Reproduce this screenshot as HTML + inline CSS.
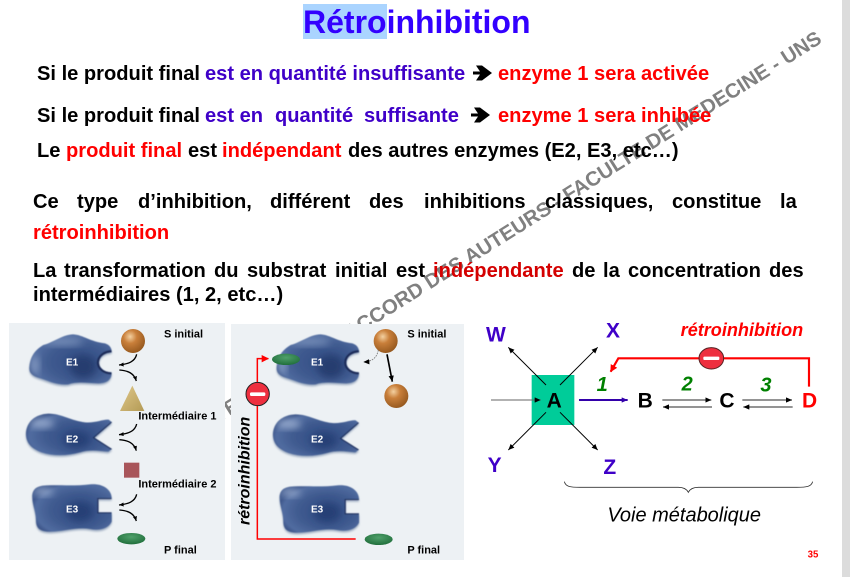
<!DOCTYPE html>
<html><head><meta charset="utf-8">
<style>html,body{margin:0;padding:0;background:#fff;width:850px;height:577px;overflow:hidden}svg{display:block}text{font-family:"Liberation Sans",sans-serif;white-space:pre}</style>
</head><body>
<svg width="850" height="577" viewBox="0 0 850 577" xmlns="http://www.w3.org/2000/svg">
<defs>
<radialGradient id="bl" cx=".6" cy=".55" r=".62"><stop offset="0" stop-color="#304c84"/><stop offset=".6" stop-color="#405b90"/><stop offset=".9" stop-color="#516ca0"/><stop offset="1" stop-color="#3f588c"/></radialGradient>
<radialGradient id="or" cx=".38" cy=".32" r=".7"><stop offset="0" stop-color="#f3d0a0"/><stop offset=".4" stop-color="#c97f3a"/><stop offset="1" stop-color="#96591f"/></radialGradient>
<radialGradient id="gr" cx=".5" cy=".35" r=".7"><stop offset="0" stop-color="#4fa06a"/><stop offset="1" stop-color="#1d6b38"/></radialGradient>
<linearGradient id="tr" x1="0" y1="0" x2="1" y2="1"><stop offset="0" stop-color="#e0c88a"/><stop offset="1" stop-color="#b39a55"/></linearGradient>
<filter id="b0" x="-10%" y="-10%" width="120%" height="120%"><feGaussianBlur stdDeviation="1.4"/></filter>
<filter id="b1" x="-20%" y="-20%" width="140%" height="140%"><feGaussianBlur stdDeviation="3"/></filter>
<filter id="b2" x="-50%" y="-50%" width="200%" height="200%"><feGaussianBlur stdDeviation="12"/></filter>
<marker id="ak" markerUnits="userSpaceOnUse" markerWidth="20" markerHeight="16" refX="18" refY="8" orient="auto"><path d="M0 0L18 8L0 16z" fill="#000"/></marker>
<marker id="as" markerUnits="userSpaceOnUse" markerWidth="16" markerHeight="12" refX="14" refY="6" orient="auto"><path d="M0 0L14 6L0 12z" fill="#000"/></marker>
<marker id="ab" markerUnits="userSpaceOnUse" markerWidth="20" markerHeight="16" refX="18" refY="8" orient="auto"><path d="M0 0L18 8L0 16z" fill="#3300aa"/></marker>
<marker id="ar" markerUnits="userSpaceOnUse" markerWidth="24" markerHeight="22" refX="20" refY="11" orient="auto"><path d="M0 0L22 11L0 22z" fill="#f00"/></marker>
<path id="p1" d="M88 160C90 125 105 105 130 90C160 82 190 58 220 58C250 60 270 80 315 85C330 90 335 100 335 112C315 112 297 125 297 143C297 160 315 172 335 172C335 190 325 205 295 205C265 205 235 198 205 208C170 212 140 195 115 188C100 183 88 175 88 160z"/>
<path id="p2" d="M78 355C80 320 105 298 145 296C185 296 215 318 255 322C285 325 310 312 326 314L336 322L283 368L336 402L325 410C300 408 270 402 240 412C205 422 160 424 125 412C95 400 78 385 78 355z"/>
<path id="p3" d="M97 545C97 522 110 512 140 511C190 510 230 513 270 508C305 505 335 520 335 552L295 552L295 592L335 592L335 620C325 640 300 648 270 642C230 635 190 650 150 650C120 650 108 640 108 615C108 590 97 570 97 545z"/>
<clipPath id="c1"><use href="#p1"/></clipPath>
<clipPath id="c2"><use href="#p2"/></clipPath>
<clipPath id="c3"><use href="#p3"/></clipPath>
<g id="e1"><use href="#p1" fill="#9aa9bf" transform="translate(0 5)" filter="url(#b1)"/><g filter="url(#b0)"><use href="#p1" fill="url(#bl)"/><g clip-path="url(#c1)"><ellipse cx="190" cy="80" rx="60" ry="10" fill="#7f96bf" filter="url(#b2)"/><ellipse cx="105" cy="150" rx="10" ry="30" fill="#8ea3c8" filter="url(#b2)"/><ellipse cx="250" cy="155" rx="40" ry="35" fill="#263d70" filter="url(#b2)"/><path d="M335 112C315 112 297 125 297 143C297 160 315 172 335 172" fill="none" stroke="#1a2b58" stroke-width="13"/></g></g></g>
<g id="e2"><use href="#p2" fill="#9aa9bf" transform="translate(0 5)" filter="url(#b1)"/><g filter="url(#b0)"><use href="#p2" fill="url(#bl)"/><g clip-path="url(#c2)"><ellipse cx="125" cy="325" rx="38" ry="12" fill="#9db0d2" filter="url(#b2)"/><ellipse cx="230" cy="375" rx="40" ry="25" fill="#283f76" filter="url(#b2)"/><path d="M336 322L283 368L336 402" fill="none" stroke="#1a2b58" stroke-width="6"/></g></g></g>
<g id="e3"><use href="#p3" fill="#9aa9bf" transform="translate(0 5)" filter="url(#b1)"/><g filter="url(#b0)"><use href="#p3" fill="url(#bl)"/><g clip-path="url(#c3)"><ellipse cx="130" cy="530" rx="30" ry="10" fill="#9db0d2" filter="url(#b2)"/><ellipse cx="240" cy="590" rx="40" ry="30" fill="#283f76" filter="url(#b2)"/><path d="M335 552L295 552L295 592L335 592" fill="none" stroke="#1a2b58" stroke-width="6"/></g></g></g>
<g id="cv" fill="none" stroke="#000" stroke-width="4"><path d="M410 118C405 140 385 147 357 150" marker-end="url(#as)"/><path d="M358 165C385 167 402 175 409 198" marker-end="url(#as)"/></g>
</defs>

<rect width="850" height="577" fill="#fff"/>
<rect x="842" y="0" width="8" height="577" fill="#dcdcdc"/>

<text transform="translate(823 42) rotate(-32.2)" text-anchor="end" font-size="20.4" font-weight="700" fill="#808080">REPRODUCTION INTERDITE SANS ACCORD DES AUTEURS - FACULTE DE MEDECINE - UNS</text>

<rect x="303" y="4" width="84" height="35" fill="#aad4ff"/>
<text x="303" y="33" font-size="32" font-weight="700" fill="#3300ff">Rétroinhibition</text>

<g font-size="20.1" font-weight="700">
<text x="37" y="80" fill="#000">Si le produit final</text>
<text x="205" y="80" fill="#3f00c8">est en quantité insuffisante</text>
<text x="498" y="80" fill="#f00">enzyme 1 sera activée</text>
<path d="M473 71.5H480L476 65.5H482L492 73L482 80.5H476L480 74.5H473z" fill="#000"/>
<text x="37" y="122" fill="#000">Si le produit final</text>
<text x="205" y="122" fill="#3f00c8">est en</text>
<text x="275" y="122" fill="#3f00c8">quantité</text>
<text x="364" y="122" fill="#3f00c8">suffisante</text>
<text x="498" y="122" fill="#f00">enzyme 1 sera inhibée</text>
<path d="M471 113.5H478L474 107.5H480L490 115L480 122.5H474L478 116.5H471z" fill="#000"/>
<text x="37" y="157" fill="#000">Le</text>
<text x="66" y="157" fill="#f00">produit final</text>
<text x="188" y="157" fill="#000">est</text>
<text x="222" y="157" fill="#f00">indépendant</text>
<text x="348" y="157" fill="#000">des autres enzymes (E2, E3, etc…)</text>

<text y="208" fill="#000"><tspan x="33">Ce</tspan><tspan x="77">type</tspan><tspan x="138">d’inhibition,</tspan><tspan x="270">différent</tspan><tspan x="369">des</tspan><tspan x="424">inhibitions</tspan><tspan x="545">classiques,</tspan><tspan x="672">constitue</tspan><tspan x="780">la</tspan></text>
<text x="33" y="239" fill="#f00">rétroinhibition</text>
<text y="277" fill="#000"><tspan x="33">La</tspan><tspan x="64">transformation</tspan><tspan x="214">du</tspan><tspan x="247">substrat</tspan><tspan x="335">initial</tspan><tspan x="396">est</tspan></text>
<text x="433" y="277" fill="#d40000">indépendante</text>
<text y="277" fill="#000"><tspan x="572">de</tspan><tspan x="603">la</tspan><tspan x="628">concentration</tspan><tspan x="769">des</tspan></text>
<text x="33" y="301" fill="#000">intermédiaires (1, 2, etc…)</text>
</g>

<rect x="9" y="323" width="216" height="237" fill="#edf1f4"/>
<rect x="231" y="324" width="233" height="236" fill="#edf1f4"/>

<!-- left panel -->
<g transform="translate(0 315) scale(.33333)">
<use href="#e1"/><use href="#e2"/><use href="#e3"/>
<circle cx="399" cy="78" r="36" fill="url(#or)"/>
<path d="M397 212L360 288H433z" fill="url(#tr)"/>
<rect x="372" y="443" width="46" height="45" fill="#a8555a"/>
<ellipse cx="394" cy="671" rx="42" ry="17" fill="url(#gr)"/>
<use href="#cv"/><use href="#cv" transform="translate(0 209)"/><use href="#cv" transform="translate(0 420)"/>
<g font-size="33" font-weight="700" fill="#000">
<text x="492" y="67">S initial</text>
<text x="415" y="313">Intermédiaire 1</text>
<text x="415" y="518">Intermédiaire 2</text>
<text x="492" y="715">P final</text>
</g>
<g font-size="30" font-weight="700" fill="#fff">
<text x="198" y="152">E1</text><text x="198" y="382">E2</text><text x="198" y="592">E3</text>
</g>
</g>

<!-- middle panel -->
<g transform="translate(225 315) scale(.33333)">
<g transform="translate(67 0)"><use href="#e1"/></g>
<g transform="translate(66 2)"><use href="#e2"/></g>
<g transform="translate(67 3)"><use href="#e3"/></g>
<path d="M392 672H97V131H130" fill="none" stroke="#f00" stroke-width="4.5" marker-end="url(#ar)"/>
<ellipse cx="183" cy="133" rx="42" ry="17" fill="url(#gr)"/>
<ellipse cx="461" cy="673" rx="42" ry="17" fill="url(#gr)"/>
<circle cx="482" cy="78" r="36" fill="url(#or)"/>
<circle cx="514" cy="243" r="36" fill="url(#or)"/>
<path d="M486 118L502 200" stroke="#000" stroke-width="5" marker-end="url(#ak)"/>
<path d="M460 105C455 130 440 140 415 141" fill="none" stroke="#777" stroke-width="2.5" stroke-dasharray="5 3" marker-end="url(#ak)"/>
<ellipse cx="98" cy="237" rx="35" ry="35" fill="#ee2f3f" stroke="#222" stroke-width="3"/>
<rect x="75" y="232" width="46" height="11" rx="4" fill="#fff"/>
<text transform="translate(73 630) rotate(-90)" font-size="48" font-weight="700" font-style="italic" fill="#000">rétroinhibition</text>
<g font-size="33" font-weight="700" fill="#000">
<text x="547" y="67">S initial</text>
<text x="547" y="715">P final</text>
</g>
<g font-size="30" font-weight="700" fill="#fff">
<text x="258" y="152">E1</text><text x="258" y="382">E2</text><text x="258" y="592">E3</text>
</g>
</g>

<!-- right diagram -->
<g transform="translate(470 310) scale(.33333)">
<rect x="185" y="195" width="128" height="150" fill="#00cc99"/>
<g stroke="#000" stroke-width="3" fill="none">
<path d="M228 225L115 112" marker-end="url(#ak)"/>
<path d="M270 225L383 112" marker-end="url(#ak)"/>
<path d="M228 307L115 420" marker-end="url(#ak)"/>
<path d="M270 307L383 420" marker-end="url(#ak)"/>
<path d="M63 270H212" stroke="#666" marker-end="url(#ak)"/>
<path d="M577 270H724" stroke="#555" stroke-width="3.5" marker-end="url(#ak)"/>
<path d="M726 291H579" stroke="#555" stroke-width="3.5" marker-end="url(#ak)"/>
<path d="M817 270H966" stroke="#555" stroke-width="3.5" marker-end="url(#ak)"/>
<path d="M968 291H820" stroke="#555" stroke-width="3.5" marker-end="url(#ak)"/>
</g>
<path d="M327 270H473" stroke="#3300aa" stroke-width="6" fill="none" marker-end="url(#ab)"/>
<path d="M1017 230V145H445L422 185" fill="none" stroke="#f00" stroke-width="6.5" marker-end="url(#ar)"/>
<ellipse cx="724" cy="145" rx="37" ry="32" fill="#ee2f3f" stroke="#552222" stroke-width="3"/>
<rect x="700" y="140" width="48" height="10" rx="3" fill="#fff"/>
<path d="M283 515C287 530 300 532 330 532H625C640 532 650 537 655 547C660 537 670 532 685 532H980C1010 532 1024 530 1028 515" fill="none" stroke="#333" stroke-width="2.5"/>
<g font-size="63" font-weight="700" fill="#3f00c8">
<text x="48" y="95">W</text><text x="408" y="83">X</text><text x="53" y="486">Y</text><text x="400" y="492">Z</text>
</g>
<g font-size="63" font-weight="700" fill="#000">
<text x="230" y="293">A</text><text x="503" y="293">B</text><text x="748" y="293">C</text>
</g>
<text x="996" y="293" font-size="63" font-weight="700" fill="#f00">D</text>
<g font-size="60" font-weight="700" font-style="italic" fill="#008000">
<text x="380" y="243">1</text><text x="635" y="242">2</text><text x="871" y="245">3</text>
</g>
<text x="632" y="78" font-size="54.3" font-weight="700" font-style="italic" fill="#f00">rétroinhibition</text>
<text x="412" y="635" font-size="60" font-style="italic" fill="#000">Voie métabolique</text>
<text x="1013" y="743" font-size="29" font-weight="700" fill="#f00">35</text>
</g>
</svg>
</body></html>
